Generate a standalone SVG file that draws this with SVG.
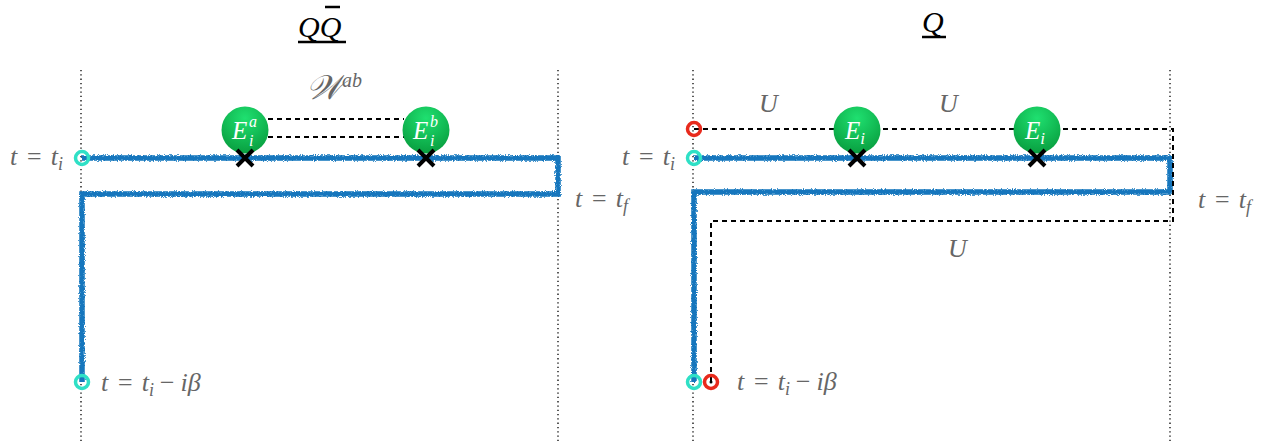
<svg xmlns="http://www.w3.org/2000/svg" width="1265" height="444" viewBox="0 0 1265 444">
<defs>
<radialGradient id="gg" cx="0.5" cy="0.25" r="0.8">
<stop offset="0" stop-color="#1fe070"/>
<stop offset="1" stop-color="#079a3c"/>
</radialGradient>
<filter id="rough" x="-5%" y="-5%" width="110%" height="110%">
<feTurbulence type="fractalNoise" baseFrequency="0.9" numOctaves="2" seed="3" result="n"/>
<feDisplacementMap in="SourceGraphic" in2="n" scale="4" xChannelSelector="R" yChannelSelector="G"/>
</filter>
</defs>
<style>
.dot{stroke:#000;stroke-width:1.3;stroke-dasharray:1.3 3;fill:none}
.contour{stroke:#1276bd;stroke-width:5.5;fill:none;stroke-linejoin:miter}
.dash{stroke:#000;stroke-width:2;stroke-dasharray:5 4;fill:none}
.cyan{stroke:#2fe0c6;stroke-width:3.5;fill:none}
.red{stroke:#e82a1c;stroke-width:3.5;fill:none}
.ball{fill:url(#gg)}
.cross{stroke:#000;stroke-width:4;stroke-linecap:butt}
.lbl{font-family:'Liberation Serif',serif;font-style:italic;fill:#666;font-size:26px}
.sub{font-size:18px}
.etx{font-family:'Liberation Serif',serif;font-style:italic;fill:#fff;font-size:25px}
.es{font-family:'Liberation Serif',serif;font-style:italic;fill:#fff;font-size:16px}
.ttl{font-family:'Liberation Serif',serif;font-style:italic;fill:#000;font-size:30px}
.ul{stroke:#000;stroke-width:2.5}
</style>

<g id="guides">
<line class="dot" x1="81" y1="70" x2="81" y2="444"/>
<line class="dot" x1="558" y1="70" x2="558" y2="444"/>
<line class="dot" x1="693" y1="70" x2="693" y2="444"/>
<line class="dot" x1="1170" y1="70" x2="1170" y2="444"/>
</g>

<g id="connectors">
<path class="contour" filter="url(#rough)" d="M82,158 H558 V194 H82 V382"/>
<path class="contour" filter="url(#rough)" d="M694,158 H1170 V192 H694 V382"/>
<line class="dash" x1="268" y1="119" x2="404" y2="119"/>
<line class="dash" x1="268" y1="137" x2="404" y2="137"/>
<path class="dash" d="M694,129 H1173 V221 H711 V381"/>
</g>

<g id="title-left">
<text class="ttl" x="298" y="37">Q<tspan>Q</tspan></text>
<line class="ul" x1="325" y1="7" x2="340" y2="7"/>
<line class="ul" x1="298" y1="42" x2="346" y2="42"/>
</g>
<g id="title-right">
<text class="ttl" x="922" y="32">Q</text>
<line class="ul" x1="922" y1="37" x2="946" y2="37"/>
</g>

<g id="W-label"><text class="lbl" x="306" y="99"><tspan font-family="'DejaVu Serif',serif" font-size="34">𝒲</tspan><tspan font-size="20" dy="-12">ab</tspan></text></g>

<g id="node-Ea">
<circle class="ball" cx="245" cy="130" r="23.5"/>
<text class="etx" x="232" y="139">E</text>
<text class="es" x="249" y="127">a</text>
<text class="es" x="249" y="146">i</text>
<path class="cross" d="M237,150 L253,166 M253,150 L237,166"/>
</g>
<g id="node-Eb">
<circle class="ball" cx="426" cy="130" r="23.5"/>
<text class="etx" x="413" y="139">E</text>
<text class="es" x="430" y="127">b</text>
<text class="es" x="430" y="146">i</text>
<path class="cross" d="M418,150 L434,166 M434,150 L418,166"/>
</g>
<g id="node-E1">
<circle class="ball" cx="857" cy="130" r="23.5"/>
<text class="etx" x="845" y="139">E<tspan font-size="17" dy="5">i</tspan></text>
<path class="cross" d="M849,150 L865,166 M865,150 L849,166"/>
</g>
<g id="node-E2">
<circle class="ball" cx="1037" cy="130" r="23.5"/>
<text class="etx" x="1025" y="139">E<tspan font-size="17" dy="5">i</tspan></text>
<path class="cross" d="M1029,150 L1045,166 M1045,150 L1029,166"/>
</g>

<g id="endpoints">
<circle class="cyan" cx="82" cy="158" r="6.5"/>
<circle class="cyan" cx="82" cy="382" r="6.5"/>
<circle class="cyan" cx="694" cy="158" r="6.5"/>
<circle class="cyan" cx="694" cy="382" r="6.5"/>
<circle class="red" cx="694" cy="129" r="6.5"/>
<circle class="red" cx="711" cy="382" r="6.5"/>
<circle cx="711" cy="382" r="1.5" fill="#000"/>
</g>

<g id="labels">
<text class="lbl" x="10" y="165">t<tspan dx="8">=</tspan><tspan dx="8">t</tspan><tspan class="sub" dy="5">i</tspan></text>
<text class="lbl" x="575" y="207">t<tspan dx="8">=</tspan><tspan dx="8">t</tspan><tspan class="sub" dy="5">f</tspan></text>
<text class="lbl" x="101" y="391">t<tspan dx="8">=</tspan><tspan dx="8">t</tspan><tspan class="sub" dy="5">i</tspan><tspan dx="4" dy="-5">−</tspan><tspan dx="5">iβ</tspan></text>
<text class="lbl" x="622" y="165">t<tspan dx="8">=</tspan><tspan dx="8">t</tspan><tspan class="sub" dy="5">i</tspan></text>
<text class="lbl" x="1198" y="208">t<tspan dx="8">=</tspan><tspan dx="8">t</tspan><tspan class="sub" dy="5">f</tspan></text>
<text class="lbl" x="737" y="390">t<tspan dx="8">=</tspan><tspan dx="8">t</tspan><tspan class="sub" dy="5">i</tspan><tspan dx="4" dy="-5">−</tspan><tspan dx="5">iβ</tspan></text>
<text class="lbl" x="759" y="112" font-size="29">U</text>
<text class="lbl" x="939" y="112" font-size="29">U</text>
<text class="lbl" x="948" y="257" font-size="29">U</text>
</g>
</svg>
